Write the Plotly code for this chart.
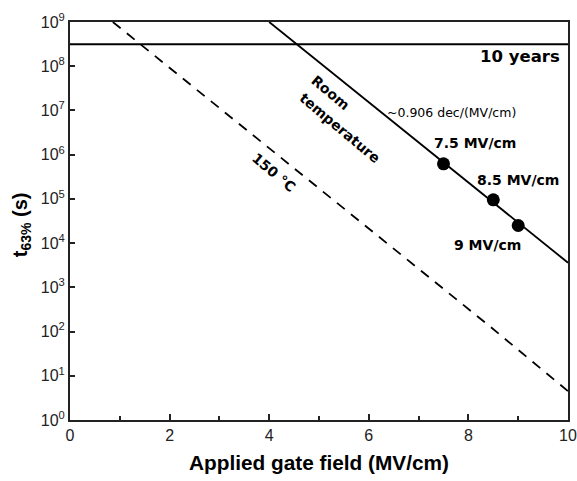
import plotly.graph_objects as go

# Data
rt_field = [4.0, 10.0]            # room temperature fit line (MV/cm)
rt_t63 = [1.0e9, 3.6e3]           # t63% (s)
ht_field = [0.86, 7.5, 8.4, 10.0]  # 150 °C line
ht_t63 = [1.0e9, 9.0e2, 1.4e2, 4.5e0]
pt_field = [7.5, 8.5, 9.0]
pt_t63 = [6.2e5, 9.5e4, 2.5e4]
ten_years_s = 3.15e8
x_ticks = [0, 2, 4, 6, 8, 10]
y_exps = list(range(0, 10))

fig = go.Figure()
fig.add_trace(go.Scatter(x=[0, 10], y=[ten_years_s, ten_years_s], mode="lines",
                         line=dict(color="black", width=2), showlegend=False))
fig.add_trace(go.Scatter(x=rt_field, y=rt_t63, mode="lines",
                         line=dict(color="black", width=1.8), showlegend=False))
fig.add_trace(go.Scatter(x=ht_field, y=ht_t63, mode="lines",
                         line=dict(color="black", width=1.8, dash="10px,8px"), showlegend=False))
fig.add_trace(go.Scatter(x=pt_field, y=pt_t63, mode="markers",
                         marker=dict(color="black", size=13), showlegend=False))

anns = [
    dict(x=9.88, y=8.21, text="<b>10 years</b>", xanchor="right", size=16.5, angle=0),
    dict(x=7.67, y=6.96, text="~0.906 dec/(MV/cm)", xanchor="center", size=12.5, angle=0),
    dict(x=8.13, y=6.26, text="<b>7.5 MV/cm</b>", xanchor="center", size=14, angle=0),
    dict(x=9.0, y=5.43, text="<b>8.5 MV/cm</b>", xanchor="center", size=14, angle=0),
    dict(x=8.39, y=3.95, text="<b>9 MV/cm</b>", xanchor="center", size=14, angle=0),
    dict(x=5.24, y=7.39, text="<b>Room</b>", xanchor="center", size=14, angle=40),
    dict(x=5.42, y=6.6, text="<b>temperature</b>", xanchor="center", size=14, angle=40),
    dict(x=4.08, y=5.6, text="<b>150 °C</b>", xanchor="center", size=14, angle=40),
]
for a in anns:
    fig.add_annotation(x=a["x"], y=a["y"], text=a["text"], showarrow=False,
                       xanchor=a["xanchor"], yanchor="middle", textangle=a["angle"],
                       font=dict(family="DejaVu Sans", size=a["size"], color="black"))

fig.add_annotation(x=-0.096, y=0.49, xref="paper", yref="paper", showarrow=False,
                   xanchor="center", yanchor="middle",
                   text="<b>t<sub>63%</sub> (s)</b>", textangle=-90,
                   font=dict(family="Liberation Sans", size=20, color="black"))

fig.update_xaxes(range=[0, 10], tickvals=x_ticks, ticktext=[str(v) for v in x_ticks],
                 ticks="inside", ticklen=6, tickwidth=1.5, tickcolor="#222",
                 minor=dict(ticks="inside", ticklen=4, tickwidth=1.5, tickcolor="#222", dtick=1, tick0=0),
                 showline=True, linecolor="#222", linewidth=2, mirror=True,
                 showgrid=False, zeroline=False, automargin=False,
                 tickfont=dict(family="Liberation Sans", size=16, color="#222"),
                 title=dict(text="<b>Applied gate field (MV/cm)</b>", standoff=12,
                            font=dict(family="Liberation Sans", size=20.8, color="black")))
fig.update_yaxes(type="log", range=[0, 9], tickvals=[10 ** e for e in y_exps],
                 ticktext=["10<sup>%d</sup>" % e for e in y_exps],
                 ticks="inside", ticklen=5, tickwidth=1.5, tickcolor="#222",
                 showline=True, linecolor="#222", linewidth=2, mirror=True,
                 showgrid=False, zeroline=False, automargin=False,
                 tickfont=dict(family="Liberation Sans", size=16, color="#222"))

fig.update_layout(width=577, height=481, margin=dict(l=70, r=9, t=22, b=61, autoexpand=False),
                  plot_bgcolor="white", paper_bgcolor="white")
fig.write_html("out.html")
